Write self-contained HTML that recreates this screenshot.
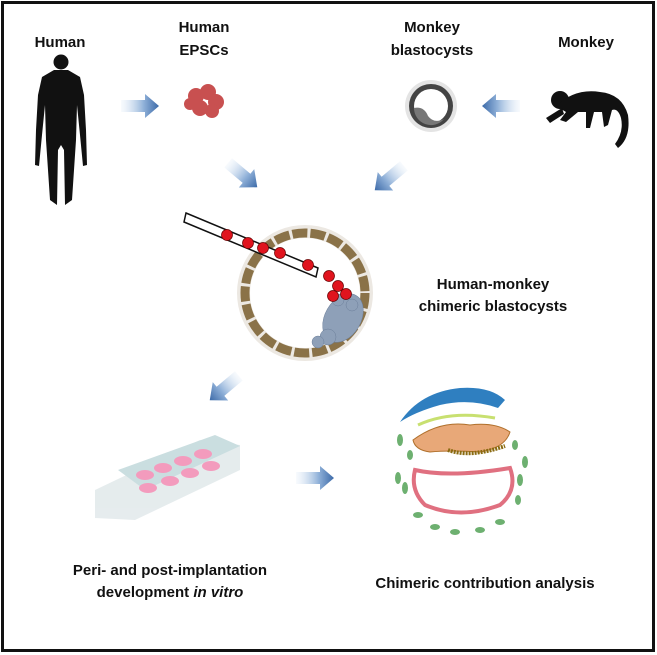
<!DOCTYPE html>
<html><head><meta charset="utf-8"><style>
html,body{margin:0;padding:0;background:#fff}
svg{display:block}
text{font-family:"Liberation Sans",Arial,sans-serif;font-weight:bold;fill:#111;text-anchor:middle}
</style></head><body>
<svg width="657" height="655" viewBox="0 0 657 655" xmlns="http://www.w3.org/2000/svg">
<defs>
<linearGradient id="ar" x1="0" x2="1" y1="0" y2="0"><stop offset="0" stop-color="#dbe8f6" stop-opacity="0.2"/><stop offset="0.6" stop-color="#8fb0d8"/><stop offset="1" stop-color="#3c6aa8"/></linearGradient>
<g id="arrow"><path d="M-22,-6 L2,-6 L2,-12 L16,0 L2,12 L2,6 L-22,6 Z" fill="url(#ar)"/></g>
</defs>
<rect x="2.5" y="2.5" width="651" height="648" fill="#fff" stroke="#111" stroke-width="3"/>
<text x="60" y="47" font-size="15">Human</text>
<text x="204" y="32" font-size="15">Human</text>
<text x="204" y="55" font-size="15">EPSCs</text>
<text x="432" y="32" font-size="15">Monkey</text>
<text x="432" y="55" font-size="15">blastocysts</text>
<text x="586" y="47" font-size="15">Monkey</text>
<!-- human silhouette -->
<g fill="#111">
<circle cx="61" cy="62" r="7.5"/>
<path d="M54,70 L68,70 L80,77 L84,95 L86,130 L87,165 L83,166 L80,135 L77,105 L76,140 L72,200 L65,205 L64,150 L61,145 L58,150 L57,205 L50,200 L46,140 L45,105 L42,135 L39,166 L35,165 L36,130 L38,95 L42,77 Z"/>
</g>
<use href="#arrow" x="143" y="106"/>
<!-- EPSCs -->
<g fill="#c85050">
<circle cx="196" cy="96" r="8"/><circle cx="208" cy="92" r="8"/><circle cx="216" cy="102" r="8"/><circle cx="200" cy="108" r="8"/><circle cx="212" cy="111" r="7"/><circle cx="190" cy="104" r="6"/>
</g>
<!-- monkey blastocyst -->
<circle cx="431" cy="106" r="26" fill="#e4e4e4"/>
<circle cx="431" cy="106" r="22" fill="#444"/>
<circle cx="431" cy="106" r="17" fill="#fff"/>
<path d="M414,108 Q424,106 428,116 Q434,124 444,119 A17,17 0 0 1 414,108 Z" fill="#777"/>
<g transform="translate(498,106) scale(-1,1)"><use href="#arrow"/></g>
<!-- monkey -->
<g fill="#111">
<circle cx="560" cy="100" r="9"/>
<path d="M556,106 Q575,88 600,92 Q622,94 628,115 Q631,138 618,148 L615,144 Q624,132 621,118 Q618,108 612,110 L608,125 L604,127 L602,112 L594,112 L590,128 L586,128 L586,112 L578,112 L566,122 L560,120 L566,112 Z"/>
<path d="M546,118 L562,108 L564,114 L550,123 Z"/>
</g>
<g transform="translate(245,177) rotate(40)"><use href="#arrow"/></g>
<g transform="translate(387,180) rotate(140)"><use href="#arrow"/></g>
<!-- chimeric blastocyst -->
<circle cx="305" cy="293" r="68" fill="#ece8e2"/>
<circle cx="305" cy="293" r="60" fill="none" stroke="#8a7248" stroke-width="9" stroke-dasharray="15 3"/>
<circle cx="305" cy="293" r="55" fill="#fff"/>
<g fill="#8ea0b8" stroke="#6c7f9a" stroke-width="0.5">
<ellipse cx="343" cy="318" rx="18" ry="26" transform="rotate(30 343 318)"/>
<circle cx="328" cy="337" r="8"/><circle cx="318" cy="342" r="6"/><circle cx="338" cy="300" r="6"/><circle cx="352" cy="305" r="6"/>
</g>
<polygon points="186,213 318,268 316,277 184,222" fill="#fff" stroke="#111" stroke-width="1.5"/>
<g fill="#e0141e" stroke="#6a0000" stroke-width="0.7">
<circle cx="227" cy="235" r="5.5"/><circle cx="248" cy="243" r="5.5"/><circle cx="263" cy="248" r="5.5"/><circle cx="280" cy="253" r="5.5"/><circle cx="308" cy="265" r="5.5"/><circle cx="329" cy="276" r="5.5"/><circle cx="338" cy="286" r="5.5"/><circle cx="333" cy="296" r="5.5"/><circle cx="346" cy="294" r="5.5"/>
</g>
<text x="493" y="289" font-size="15">Human-monkey</text>
<text x="493" y="311" font-size="15">chimeric blastocysts</text>
<g transform="translate(222,390) rotate(140)"><use href="#arrow"/></g>
<!-- plate -->
<g opacity="0.75">
<polygon points="95,490 200,440 240,445 240,470 135,520 95,518" fill="#dde6e8"/>
<polygon points="118,470 215,435 240,446 145,490" fill="#b9d3d6"/>
<g fill="#f07aa8">
<ellipse cx="145" cy="475" rx="9" ry="5"/><ellipse cx="163" cy="468" rx="9" ry="5"/><ellipse cx="183" cy="461" rx="9" ry="5"/><ellipse cx="203" cy="454" rx="9" ry="5"/>
<ellipse cx="148" cy="488" rx="9" ry="5"/><ellipse cx="170" cy="481" rx="9" ry="5"/><ellipse cx="190" cy="473" rx="9" ry="5"/><ellipse cx="211" cy="466" rx="9" ry="5"/>
</g>
</g>
<use href="#arrow" x="318" y="478"/>
<!-- embryo section -->
<path d="M400,422 Q420,392 460,388 Q490,386 505,400 L498,408 Q470,398 440,405 Q415,412 400,422 Z" fill="#2f7fc0"/>
<path d="M413,440 Q440,420 470,425 Q495,422 510,432 Q505,448 480,452 Q450,450 430,452 Q415,450 413,440 Z" fill="#e8a878" stroke="#b0702c" stroke-width="1"/>
<path d="M448,450 Q470,458 505,446" fill="none" stroke="#8a6a10" stroke-width="4" stroke-dasharray="2 1"/>
<path d="M418,425 Q450,410 495,418" fill="none" stroke="#c8e070" stroke-width="3"/>
<path d="M415,470 Q450,478 510,468 Q518,490 500,505 Q460,520 425,505 Q410,490 415,470 Z" fill="none" stroke="#e07080" stroke-width="4"/>
<g fill="#6db070">
<ellipse cx="398" cy="478" rx="3" ry="6"/><ellipse cx="405" cy="488" rx="3" ry="6"/><ellipse cx="400" cy="440" rx="3" ry="6"/><ellipse cx="410" cy="455" rx="3" ry="5"/>
<ellipse cx="418" cy="515" rx="5" ry="3"/><ellipse cx="435" cy="527" rx="5" ry="3"/><ellipse cx="455" cy="532" rx="5" ry="3"/><ellipse cx="480" cy="530" rx="5" ry="3"/><ellipse cx="500" cy="522" rx="5" ry="3"/>
<ellipse cx="520" cy="480" rx="3" ry="6"/><ellipse cx="525" cy="462" rx="3" ry="6"/><ellipse cx="518" cy="500" rx="3" ry="5"/><ellipse cx="515" cy="445" rx="3" ry="5"/>
</g>
<text x="170" y="575" font-size="15">Peri- and post-implantation</text>
<text x="170" y="597" font-size="15">development <tspan font-style="italic">in vitro</tspan></text>
<text x="485" y="588" font-size="15">Chimeric contribution analysis</text>
</svg>
</body></html>
